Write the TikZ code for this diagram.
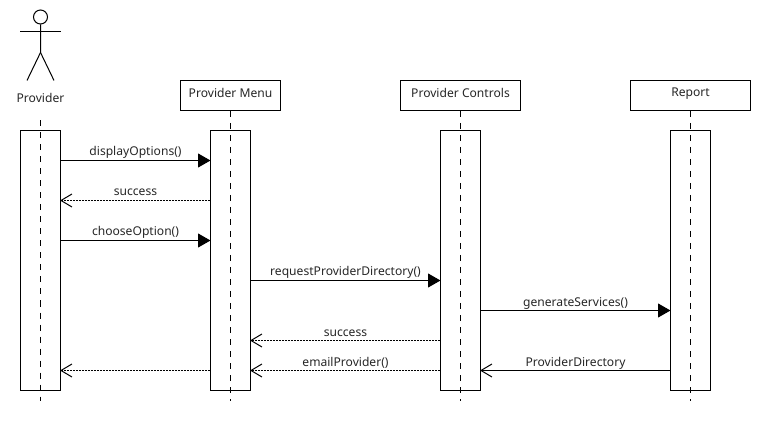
\documentclass[tikz,border=0pt]{standalone}
\usepackage{fontspec}
\setmainfont{Noto Sans}
\usetikzlibrary{positioning, arrows.meta}

\begin{document}
\begin{tikzpicture}[x=1pt,y=-1pt,on grid,line width=1pt,
    every node/.style={font=\fontsize{12.1}{14}\selectfont,text=black!85},
    head/.style={draw=black,fill=white,minimum height=30pt,inner sep=0pt,text depth=6pt},
    bar/.style={draw=black,fill=white,minimum width=40pt,minimum height=260pt},
    lifeline/.style={dash pattern=on 6pt off 6pt},
    call/.style={shorten >=-0.5pt,-{Triangle[length=12.5pt,width=14pt]}},
    answer/.style={shorten >=-1pt,-{Straight Barb[length=11pt,width=13pt]}},
    reply/.style={answer,dash pattern=on 2pt off 1pt},
    msg/.style={above=1pt,text height=9pt,text depth=3pt,inner sep=0pt}]
  \useasboundingbox (-0.5,-0.5) rectangle (759.5,429.5);

  % heads
  \node[head,minimum width=100pt] (menu) at (230,95) {Provider Menu};
  \node[head,minimum width=120pt] (controls) [right=230pt of menu] {Provider Controls};
  \node[head,minimum width=120pt] (report) [right=230pt of controls] {Report};

  % bars
  \node[bar] (menu_bar) [below=165pt of menu] {};
  \node[bar] (controls_bar) [below=165pt of controls] {};
  \node[bar] (report_bar) [below=165pt of report] {};
  \node[bar] (provider_bar) [left=190pt of menu_bar] {};

  % actor
  \node[draw=black,circle,minimum size=14pt,inner sep=0pt] (actor) at (40,16.5) {};
  \node (provider) at (40,97) {Provider};
  \coordinate (hip) at (40,52);
  \draw (actor) -- (hip) -- (26.5,80);
  \draw (hip) -- (53.5,80);
  \draw (19.5,31) -- (60.5,31);

  % lifelines
  \coordinate (provider_top) at (40,120);
  \coordinate (provider_end) at (40,400);
  \draw[lifeline] (provider_top) -- (provider_end);
  \foreach \name in {menu,controls,report}
    \draw[lifeline] (\name.south) -- (\name |- provider_end);

  % messages
  \foreach \i/\y in {1/160,2/200,3/240,4/280,5/310,6/340,7/370}
    \coordinate (m_\i) at (0,\y);
  \path[call]
   (provider_bar.east |- m_1) edge node[msg] {displayOptions()} (menu_bar.west |- m_1)
   (provider_bar.east |- m_3) edge node[msg] {chooseOption()} (menu_bar.west |- m_3)
   (menu_bar.east |- m_4) edge node[msg] {requestProviderDirectory()} (controls_bar.west |- m_4)
   (controls_bar.east |- m_5) edge node[msg] {generateServices()} (report_bar.west |- m_5);
  \path[reply]
   (menu_bar.west |- m_2) edge node[msg] {success} (provider_bar.east |- m_2)
   (controls_bar.west |- m_6) edge node[msg] {success} (menu_bar.east |- m_6)
   (controls_bar.west |- m_7) edge node[msg] {emailProvider()} (menu_bar.east |- m_7)
   (menu_bar.west |- m_7) edge (provider_bar.east |- m_7);
  \path[answer]
   (report_bar.west |- m_7) edge node[msg] {ProviderDirectory} (controls_bar.east |- m_7);
\end{tikzpicture}
\end{document}
